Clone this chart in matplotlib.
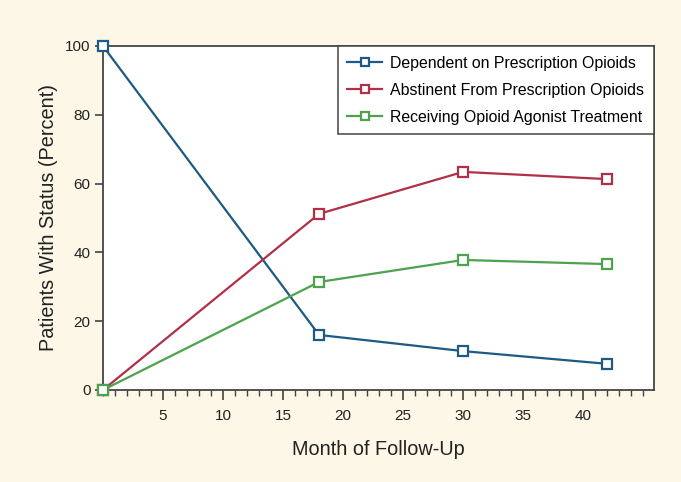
import matplotlib
matplotlib.use("Agg")
import matplotlib.pyplot as plt
from matplotlib.ticker import MultipleLocator

plt.rcParams['font.family'] = ['Liberation Sans', 'DejaVu Sans']

months = [0, 18, 30, 42]
dependent = [100, 16, 11.3, 7.6]
abstinent = [0, 51.2, 63.4, 61.3]
agonist = [0, 31.4, 37.8, 36.6]
labels = ["Dependent on Prescription Opioids",
          "Abstinent From Prescription Opioids",
          "Receiving Opioid Agonist Treatment"]
colors = ["#1d5a86", "#b03048", "#4ea24e"]
x_ticks = [5, 10, 15, 20, 25, 30, 35, 40]
y_ticks = [0, 20, 40, 60, 80, 100]

bg = "#fcf7e6"
fig = plt.figure(figsize=(6.81, 4.82), dpi=100, facecolor=bg)
ax = fig.add_axes([0.1512, 0.1909, 0.8092, 0.7137])
ax.set_facecolor("white")

for ys, c, lab in zip([dependent, abstinent, agonist], colors, labels):
    ax.plot(months, ys, color=c, lw=1.6, marker="s", markersize=7.5,
            markerfacecolor="white", markeredgecolor=c, markeredgewidth=1.6,
            label=lab, clip_on=False, zorder=3)

ax.set_xlim(0, 45.9)
ax.set_ylim(0, 100)
ax.set_xticks(x_ticks)
ax.xaxis.set_minor_locator(MultipleLocator(1))
ax.set_yticks(y_ticks)
ax.tick_params(axis="x", which="major", length=7, width=1.2, color="#444444",
               labelsize=11, pad=7, labelcolor="#222222")
ax.tick_params(axis="x", which="minor", length=4, width=1.0, color="#444444")
ax.tick_params(axis="y", length=6, width=1.2, color="#444444", labelsize=11,
               pad=3, labelcolor="#222222")
for s in ax.spines.values():
    s.set_color("#444444")
    s.set_linewidth(1.3)

ax.set_xlabel("Month of Follow-Up", fontsize=14.3, labelpad=12, color="#222222")
ax.set_ylabel("Patients With Status (Percent)", fontsize=14.3, labelpad=5, color="#222222")

leg = ax.legend(loc="upper right", borderaxespad=0, fancybox=False,
                edgecolor="#444444", fontsize=11.4, handlelength=2.2,
                handletextpad=0.5, borderpad=0.62, labelspacing=0.75,
                markerscale=0.85, framealpha=1)
leg.get_frame().set_linewidth(1.1)

fig.savefig("out.png", dpi=100, facecolor=bg)
